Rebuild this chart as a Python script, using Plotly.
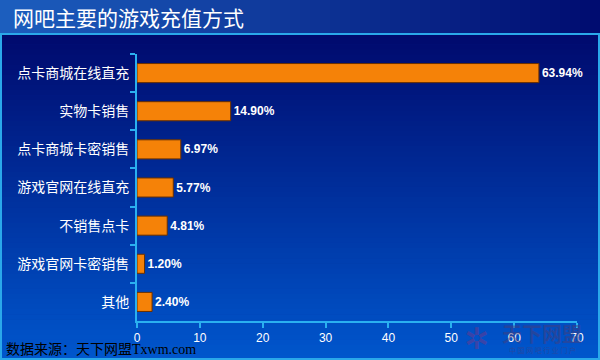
import plotly.graph_objects as go

categories = ["点卡商城在线直充", "实物卡销售", "点卡商城卡密销售", "游戏官网在线直充",
              "不销售点卡", "游戏官网卡密销售", "其他"]
values = [63.94, 14.90, 6.97, 5.77, 4.81, 1.20, 2.40]
x_ticks = [0, 10, 20, 30, 40, 50, 60, 70]
title_text = "网吧主要的游戏充值方式"
source_text = "数据来源：天下网盟Txwm.com"

W, H = 600, 360
L, R, T, B = 137, 577, 54, 321


def px(x):
    return (x - L) / (R - L)


def py(y):
    return (B - y) / (B - T)


def mix(c1, c2, t):
    return "rgb(%d,%d,%d)" % tuple(round(a + (b - a) * t) for a, b in zip(c1, c2))


shapes = []
# panel vertical gradient
top_c, bot_c = (0, 10, 110), (0, 86, 204)
n = 64
y0, y1 = 34, 360
for i in range(n):
    ya = y0 + (y1 - y0) * i / n
    yb = y0 + (y1 - y0) * (i + 1) / n + 0.6
    shapes.append(dict(type="rect", xref="paper", yref="paper", layer="below",
                       x0=px(0), x1=px(W), y0=py(ya), y1=py(yb),
                       fillcolor=mix(top_c, bot_c, i / (n - 1)), line_width=0))
# title bar horizontal gradient
lc, rc = (28, 94, 190), (0, 12, 112)
m = 60
for i in range(m):
    xa = W * i / m
    xb = W * (i + 1) / m + 0.6
    shapes.append(dict(type="rect", xref="paper", yref="paper", layer="below",
                       x0=px(xa), x1=px(xb), y0=py(0), y1=py(33),
                       fillcolor=mix(lc, rc, i / (m - 1)), line_width=0))
# frame
shapes.append(dict(type="rect", xref="paper", yref="paper", layer="below",
                   x0=px(1), x1=px(599), y0=py(34), y1=py(359),
                   line=dict(color="#2aa8ea", width=2), fillcolor="rgba(0,0,0,0)"))

fig = go.Figure(go.Bar(
    x=values, y=categories, orientation="h",
    marker=dict(color="#f58208", line=dict(color="#6a3000", width=1)),
    width=0.5,
    text=[f"<b>{v:.2f}%</b>" for v in values], textposition="outside",
    textfont=dict(family="Arial, Liberation Sans", size=12, color="white"),
    cliponaxis=False,
))

annotations = [
    dict(text=title_text, xref="paper", yref="paper", x=px(11), y=py(17),
         xanchor="left", yanchor="middle", showarrow=False,
         font=dict(family="Noto Sans CJK SC", size=21, color="white")),
    dict(text=source_text, xref="paper", yref="paper", x=px(4), y=py(349),
         xanchor="left", yanchor="middle", showarrow=False,
         font=dict(family="Liberation Serif, Noto Sans CJK SC", size=14, color="black")),
    dict(text="<b>天下网盟</b>", xref="paper", yref="paper", x=px(542), y=py(333),
         xanchor="center", yanchor="middle", showarrow=False,
         font=dict(family="Noto Sans CJK SC", size=20, color="rgba(70,60,120,0.5)")),
    dict(text="中 国 网 吧 行 业 门 户", xref="paper", yref="paper", x=px(542), y=py(350),
         xanchor="center", yanchor="middle", showarrow=False,
         font=dict(family="Noto Sans CJK SC", size=7, color="rgba(70,60,120,0.5)")),
    dict(text="✲", xref="paper", yref="paper", x=px(476), y=py(338),
         xanchor="center", yanchor="middle", showarrow=False,
         font=dict(family="DejaVu Sans", size=30, color="rgba(130,50,130,0.45)")),
]

fig.update_layout(
    width=W, height=H,
    margin=dict(l=L, r=W - R, t=T, b=H - B, pad=0),
    paper_bgcolor="#0a2a90", plot_bgcolor="rgba(0,0,0,0)",
    shapes=shapes, annotations=annotations, showlegend=False,
    bargap=0.5,
    xaxis=dict(range=[0, 70], tickvals=x_ticks, showgrid=False, zeroline=False,
               showline=True, linecolor="#2ab0f0", linewidth=2,
               ticks="outside", ticklen=5, tickcolor="#2ab0f0", tickwidth=2,
               tickfont=dict(family="Arial, Liberation Sans", size=12, color="white"),
               tickprefix="<b>", ticksuffix="</b>", fixedrange=True),
    yaxis=dict(categoryorder="array", categoryarray=categories, autorange="reversed",
               showgrid=False, zeroline=False, showline=True, linecolor="#2ab0f0",
               linewidth=2, ticks="outside", ticklen=5, tickcolor="#2ab0f0", tickwidth=2,
               tickson="boundaries", ticklabelstandoff=3,
               tickfont=dict(family="Noto Sans CJK SC", size=14, color="white"),
               fixedrange=True),
)

fig.write_html("out.html", config={"displayModeBar": False},
               post_script="document.body.style.margin='0';document.body.style.overflow='hidden';")
